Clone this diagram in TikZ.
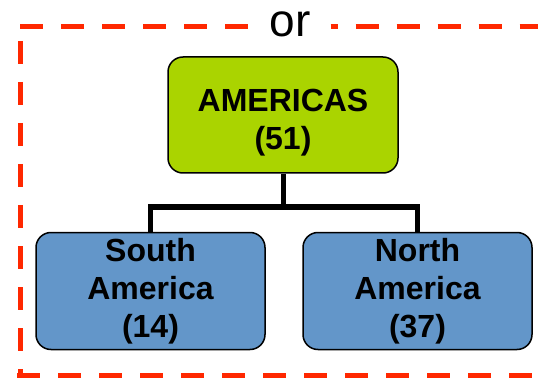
\documentclass[tikz,border=0pt]{standalone}
\usepackage{fontspec}
\setmainfont{Liberation Sans}
\definecolor{regiongreen}{RGB}{170,212,0}
\definecolor{regionblue}{RGB}{99,150,201}
\definecolor{framered}{RGB}{255,40,0}
\begin{document}
\begin{tikzpicture}[x=1pt,y=1pt,
		region/.style={draw=black,line width=1.5pt,rounded corners=15pt,minimum width=229pt,minimum height=117pt,align=center,inner sep=0pt,font=\fontsize{32}{38}\selectfont\bfseries},
		link/.style={line width=5pt},
		frame/.style={draw=framered,line width=5pt,dash pattern=on 23pt off 18pt}]
		\useasboundingbox (0,0) rectangle (538,378);
		% dashed frame
		\node [anchor=base,font=\fontsize{46}{46}\selectfont,fill=white,inner xsep=20pt,inner ysep=0pt] (or) at (290,341) {or};
		\coordinate (tl) at (20,351.5);
		\coordinate (tr) at (545,351.5);
		\draw [frame] (tl) -- (or.west |- tl);
		\draw [frame,dash phase=16pt] (or.east |- tl) -- (tr);
		\draw [frame] (20,337) -- (20,4);
		\draw [frame] (17,2.5) -- (545,2.5);
		% boxes
		\node [region,fill=regiongreen,minimum width=230pt,minimum height=116pt] (am) at (283,263) {\rule{0pt}{38pt}AMERICAS\\(51)};
		\node [region,fill=regionblue] (sa) at (150.5,87) {South\\America\\(14)};
		\node [region,fill=regionblue] (na) at (417.5,87) {North\\America\\(37)};
		\coordinate (bar) at (283,171);
		\draw [link] (am.south) -- (bar) -| (sa.north);
		\draw [link] (bar) -| (na.north);
	\end{tikzpicture}
\end{document}
